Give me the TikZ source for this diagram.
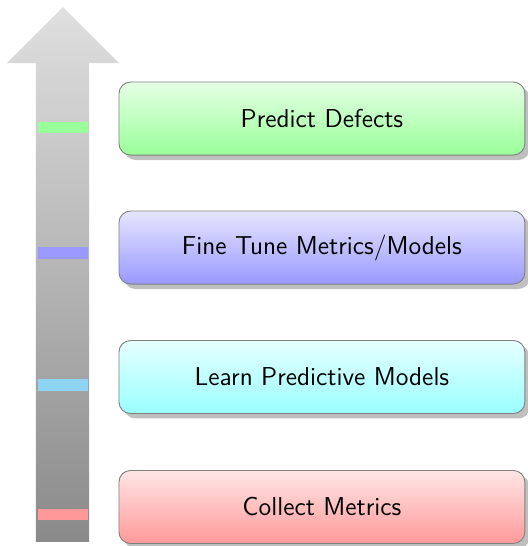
\documentclass[tikz,border=0pt]{standalone}
\usetikzlibrary{shadows}
\usepackage{xcolor}
\definecolor{barcyan}{RGB}{140,212,242}

\tikzset{stage/.style={rectangle, rounded corners=5pt, draw=gray, thin,
                       minimum width=6.17cm, minimum height=1.11cm,
                       font=\sffamily\fontsize{11.2}{13}\selectfont, drop shadow},
         mark bar/.style={minimum width=0.76cm, minimum height=0.18cm,
                          inner sep=0pt}}

\begin{document}
\begin{tikzpicture}
        \useasboundingbox (0,0) rectangle (8.026,8.30);

        % Big arrow
        \shade[top color=gray!25, bottom color=gray!92]
            (0.547,0.061) -- (0.547,7.342) -- (0.106,7.342) -- (0.958,8.193)
            -- (1.809,7.342) -- (1.353,7.342) -- (1.353,0.061) -- cycle;

        % Bars on the arrow
        \node[mark bar, fill=green!40] (b1) at (0.958,6.361) {};
        \node[mark bar, fill=blue!40] (b2) at (0.958,4.454) {};
        \node[mark bar, fill=barcyan] (b3) at (0.958,2.447) {};
        \node[mark bar, fill=red!40] (b4) at (0.958,0.479) {};

        % Stages
        \node[stage, top color=green!10, bottom color=green!40] (s1) at (4.894,6.498) {Predict Defects};
        \node[stage, top color=blue!10, bottom color=blue!40] (s2) at (4.894,4.537) {Fine Tune Metrics/Models};
        \node[stage, top color=cyan!10, bottom color=cyan!40] (s3) at (4.894,2.569) {Learn Predictive Models};
        \node[stage, top color=red!10, bottom color=red!40] (s4) at (4.894,0.593) {Collect Metrics};
    \end{tikzpicture}
\end{document}
